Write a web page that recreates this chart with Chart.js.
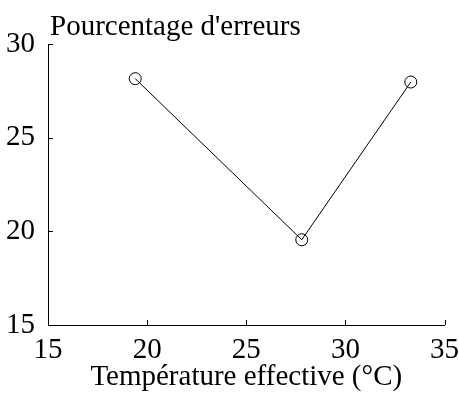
<!DOCTYPE html>
<html>
<head>
<meta charset="utf-8">
<script src="https://cdn.jsdelivr.net/npm/chart.js@4/dist/chart.umd.min.js"></script>
<style>
  html, body { margin: 0; padding: 0; background: #fff; }
  #chart { display: block; }
</style>
</head>
<body>
<canvas id="chart" width="459" height="399"></canvas>
<script>
// Données
const temperatures = [19.4, 27.8, 33.3];     // °C
const tauxErreurs = [28.15, 19.55, 27.97];  // %
const xTicks = [15, 20, 25, 30, 35];
const yTicks = [15, 20, 25, 30];

const TITRE = "Pourcentage d'erreurs";
const FONTE = '"Liberation Serif", "Times New Roman", serif';
const TAILLE = 29;

// Petits traits de graduation tournés vers l'intérieur + titre en haut à gauche
const decor = {
  id: 'decor',
  afterDraw(chart) {
    const ctx = chart.ctx;
    const x = chart.scales.x;
    const y = chart.scales.y;
    const area = chart.chartArea;
    ctx.save();
    ctx.strokeStyle = '#000';
    ctx.lineWidth = 1;
    ctx.beginPath();
    x.ticks.forEach(t => {
      const px = Math.round(x.getPixelForValue(t.value)) + 0.5;
      ctx.moveTo(px, area.bottom);
      ctx.lineTo(px, area.bottom - 5);
    });
    y.ticks.forEach(t => {
      const py = Math.round(y.getPixelForValue(t.value)) + 0.5;
      ctx.moveTo(area.left, py);
      ctx.lineTo(area.left + 5, py);
    });
    ctx.stroke();

    ctx.fillStyle = '#000';
    ctx.font = TAILLE + 'px ' + FONTE;
    ctx.textAlign = 'left';
    ctx.textBaseline = 'alphabetic';
    ctx.fillText(TITRE, 50, 35);
    ctx.restore();
  }
};

new Chart(document.getElementById('chart'), {
  type: 'line',
  data: {
    datasets: [{
      label: TITRE,
      data: temperatures.map((t, i) => ({ x: t, y: tauxErreurs[i] })),
      borderColor: '#000',
      borderWidth: 1,
      tension: 0,
      pointStyle: 'circle',
      pointRadius: 6,
      pointHoverRadius: 6,
      pointBorderColor: '#000',
      pointBackgroundColor: 'rgba(0,0,0,0)',
      pointBorderWidth: 1,
    }],
  },
  options: {
    responsive: false,
    animation: false,
    devicePixelRatio: 1,
    layout: { padding: { top: 44, right: 12, left: 0, bottom: 0 } },
    plugins: {
      legend: { display: false },
      tooltip: { enabled: false },
      title: { display: false },
    },
    scales: {
      x: {
        type: 'linear',
        min: 15,
        max: 35,
        afterBuildTicks: s => { s.ticks = xTicks.map(v => ({ value: v })); },
        afterFit: s => { s.height = 74; },
        grid: { display: false },
        border: { display: true, color: '#000', width: 1 },
        ticks: {
          color: '#000',
          padding: 0,
          maxRotation: 0,
          font: { family: FONTE, size: TAILLE },
        },
        title: {
          display: true,
          text: 'Température effective (°C)',
          color: '#000',
          padding: { top: 0, bottom: 4 },
          font: { family: FONTE, size: TAILLE },
        },
      },
      y: {
        type: 'linear',
        min: 15,
        max: 30,
        afterBuildTicks: s => { s.ticks = yTicks.map(v => ({ value: v })); },
        afterFit: s => { s.width = 48; },
        grid: { display: false },
        border: { display: true, color: '#000', width: 1 },
        ticks: {
          color: '#000',
          padding: 5,
          font: { family: FONTE, size: TAILLE },
        },
      },
    },
  },
  plugins: [decor],
});
</script>
</body>
</html>
